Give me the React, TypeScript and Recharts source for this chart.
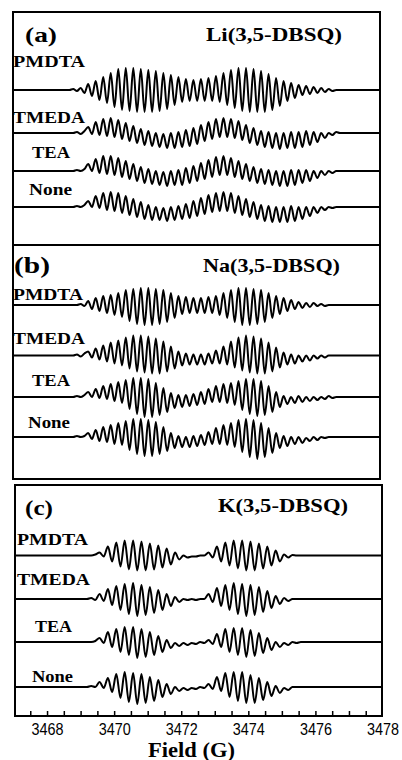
import React from 'react';
import { LineChart, Line, XAxis, YAxis } from 'recharts';

// ---- field positions (G) of the read extrema ----
const fieldAB = [
  3468.6, 3468.712, 3468.824, 3468.936, 3469.048, 3469.16, 3469.272, 3469.384, 3469.496, 3469.608,
  3469.72, 3469.832, 3469.944, 3470.056, 3470.168, 3470.28, 3470.392, 3470.504, 3470.616, 3470.728,
  3470.84, 3470.952, 3471.064, 3471.176, 3471.288, 3471.4, 3471.512, 3471.624, 3471.736, 3471.848,
  3471.96, 3472.072, 3472.184, 3472.296, 3472.408, 3472.52, 3472.632, 3472.744, 3472.856, 3472.968,
  3473.08, 3473.192, 3473.304, 3473.416, 3473.528, 3473.64, 3473.752, 3473.864, 3473.976, 3474.088,
  3474.2, 3474.312, 3474.424, 3474.536, 3474.648, 3474.76, 3474.872, 3474.984, 3475.096, 3475.208,
  3475.32, 3475.432, 3475.544, 3475.656, 3475.768, 3475.88, 3475.992, 3476.104, 3476.216, 3476.328,
  3476.44, 3476.552, 3476.664, 3476.776, 3476.888, 3477.0,
];
const fieldC = [
  3469.05, 3469.175, 3469.3, 3469.425, 3469.55, 3469.675, 3469.8, 3469.925, 3470.05, 3470.175,
  3470.3, 3470.425, 3470.55, 3470.675, 3470.8, 3470.925, 3471.05, 3471.175, 3471.3, 3471.425,
  3471.55, 3471.675, 3471.8, 3471.925, 3472.05, 3472.175, 3472.3, 3472.425, 3472.55, 3472.675,
  3472.8, 3472.925, 3473.05, 3473.175, 3473.3, 3473.425, 3473.55, 3473.675, 3473.8, 3473.925,
  3474.05, 3474.175, 3474.3, 3474.425, 3474.55, 3474.675, 3474.8, 3474.925, 3475.05, 3475.175,
  3475.3, 3475.425, 3475.55,
];

// ---- (a) Li(3,5-DBSQ) ----
const liPMDTA = [
  0, 0, 1, -1, 2, -3, 6, -6, 9, -10,
  13, -13, 17, -17, 21, -20, 22, -21, 22, -22,
  21, -22, 20, -22, 19, -21, 17, -19, 15, -15,
  13, -12, 11, -11, 10, -11, 11, -11, 12, -11,
  14, -12, 17, -15, 20, -18, 22, -21, 22, -22,
  21, -22, 19, -22, 16, -20, 12, -16, 9, -11,
  7, -8, 5, -5, 4, -4, 3, -3, 2, -2,
  1, -1, 0, 0, 0, 0,
];
const liTMEDA = [
  0, 0, 0, 1, -1, 2, 6, -1, 11, -2,
  14, -3, 15, -4, 13, -6, 10, -8, 7, -10,
  4, -12, 2, -13, 0, -14, -1, -15, 0, -15,
  1, -14, 3, -13, 5, -11, 8, -8, 11, -6,
  14, -4, 15, -4, 14, -5, 12, -7, 8, -10,
  5, -12, 2, -14, 1, -15, 0, -16, 0, -15,
  1, -15, 1, -14, 2, -12, 1, -9, 0, -5,
  0, -2, 1, 0, 0, 0,
];
const liTEA = [
  0, 0, 0, 1, 0, 2, 7, 0, 12, -2,
  15, -3, 15, -4, 13, -6, 10, -8, 7, -10,
  4, -12, 2, -13, 0, -14, -1, -15, 0, -14,
  1, -14, 3, -12, 5, -10, 8, -8, 11, -6,
  14, -4, 15, -4, 13, -6, 10, -8, 7, -10,
  4, -12, 2, -13, 1, -14, 0, -15, 0, -15,
  1, -14, 1, -12, 1, -10, 0, -7, 0, -4,
  0, -2, 0, 0, 0, 0,
];
const liNone = [
  0, 0, 0, 1, 0, 2, 6, 0, 11, -1,
  14, -3, 15, -4, 14, -6, 11, -8, 8, -10,
  5, -12, 2, -13, 0, -13, -1, -14, 0, -13,
  1, -12, 3, -11, 6, -9, 9, -7, 12, -5,
  14, -4, 15, -4, 14, -6, 11, -8, 8, -10,
  5, -12, 2, -14, 1, -15, 0, -15, 0, -15,
  1, -14, 0, -12, 0, -9, 0, -6, 0, -3,
  0, -1, 0, 0, 0, 0,
];

// ---- (b) Na(3,5-DBSQ) ----
const naPMDTA = [
  0, 0, 0, 0, 1, -1, 4, -4, 7, -6,
  9, -8, 10, -10, 12, -12, 15, -16, 16, -19,
  17, -20, 17, -20, 16, -19, 15, -17, 12, -13,
  9, -9, 8, -8, 7, -8, 7, -8, 8, -8,
  9, -10, 12, -13, 15, -17, 17, -20, 17, -20,
  16, -19, 15, -17, 12, -13, 9, -9, 7, -6,
  5, -4, 3, -3, 2, -2, 2, -1, 1, -1,
  0, 0, 0, 0, 0, 0,
];
const naTMEDA = [
  0, 0, 0, 1, -1, 2, 4, -2, 7, -4,
  10, -6, 13, -8, 15, -10, 18, -13, 20, -16,
  20, -17, 19, -18, 17, -18, 14, -16, 9, -13,
  4, -10, 2, -9, 1, -9, 1, -9, 2, -8,
  5, -8, 9, -9, 14, -12, 18, -15, 20, -17,
  19, -18, 17, -18, 13, -16, 8, -12, 3, -9,
  1, -8, 0, -6, 0, -5, 0, -3, 0, -2,
  0, 0, 0, 0, 0, 0,
];
const naTEA = [
  0, 0, 0, 1, 0, 2, 5, 0, 8, -1,
  11, -2, 13, -4, 15, -6, 17, -12, 19, -17,
  19, -20, 18, -20, 14, -18, 9, -15, 4, -11,
  2, -10, 2, -9, 3, -8, 5, -7, 8, -5,
  11, -5, 13, -6, 14, -8, 16, -13, 18, -17,
  18, -19, 16, -18, 11, -15, 5, -10, 1, -7,
  0, -6, 1, -5, 0, -4, 0, -3, 0, -2,
  1, -1, 0, 0, 0, 0,
];
const naNone = [
  0, 0, 0, 1, 0, 1, 4, -2, 7, -4,
  10, -5, 12, -7, 14, -8, 16, -13, 18, -17,
  18, -19, 17, -19, 15, -17, 10, -14, 4, -11,
  1, -10, 0, -10, 1, -9, 2, -8, 5, -7,
  9, -7, 12, -8, 14, -10, 17, -15, 18, -20,
  17, -22, 14, -20, 9, -16, 4, -11, 1, -9,
  0, -7, 0, -6, -1, -4, 0, -3, 0, -1,
  0, 0, 0, 0, 0, 0,
];

// ---- (c) K(3,5-DBSQ) ----
const kPMDTA = [
  0, 0, 0, 1, 3, -1, 9, -6, 13, -11,
  15, -14, 15, -15, 14, -15, 12, -14, 10, -12,
  7, -9, 3, -4, 0, -2, -1, -1, 0, 0,
  3, -2, 9, -6, 13, -10, 15, -13, 15, -15,
  14, -15, 12, -13, 9, -10, 5, -6, 1, -2,
  0.5, 0, 0,
];
const kTMEDA = [
  0, 0, 1, -1, 5, -2, 10, -6, 13, -11,
  15, -15, 16, -17, 14, -16, 12, -14, 9, -11,
  5, -7, 2, -3, 0, -1, 0, -1, 0, 0,
  5, -3, 11, -7, 14, -11, 16, -15, 15, -17,
  14, -16, 12, -13, 8, -9, 3, -5, 1, -2,
  0, 0, 0,
];
const kTEA = [
  0, 0, 0, 1, 4, -1, 10, -5, 13, -10,
  15, -13, 15, -16, 13, -15, 10, -13, 6, -10,
  2, -6, -1, -4, -1, -3, -1, -2, 0, -1,
  2, -2, 8, -5, 13, -10, 14, -13, 14, -15,
  12, -14, 9, -11, 4, -8, 0, -5, -1, -3,
  0, -1, 0,
];
const kNone = [
  0, 0, 1, 0, 5, -1, 9, -5, 13, -11,
  15, -15, 14, -17, 13, -16, 10, -14, 7, -10,
  3, -7, 0, -4, -1, -3, -1, -2, 0, -1,
  3, -2, 10, -4, 14, -10, 15, -14, 15, -16,
  12, -16, 9, -13, 5, -9, 1, -6, -1, -3,
  0, 0, 0,
];

const traceNames = ['PMDTA', 'TMEDA', 'TEA', 'None'];
const fieldDomain = [3467, 3478];
const xTicks = [
  3467.5, 3468, 3468.5, 3469, 3469.5, 3470, 3470.5, 3471, 3471.5, 3472, 3472.5,
  3473, 3473.5, 3474, 3474.5, 3475, 3475.5, 3476, 3476.5, 3477, 3477.5, 3478,
];
const xTickLabels = [3468, 3470, 3472, 3474, 3476, 3478];

function buildRows(field: number[], series: number[][], offsets: number[]) {
  const rows: any[] = [];
  const edge = (f: number) => {
    const r: any = { f };
    traceNames.forEach((n, k) => (r[n] = offsets[k]));
    return r;
  };
  rows.push(edge(fieldDomain[0]));
  field.forEach((f, i) => {
    const r: any = { f };
    traceNames.forEach((n, k) => (r[n] = offsets[k] + series[k][i]));
    rows.push(r);
  });
  rows.push(edge(fieldDomain[1]));
  return rows;
}

function FieldTick(props: any) {
  const { x, y, payload } = props;
  const v = payload.value;
  const show = xTickLabels.includes(v);
  return (
    <g>
      {v < 3478 && <line x1={x} x2={x} y1={y} y2={y - 6} stroke="#000" strokeWidth={1.5} />}
      {show && (
        <text
          x={x}
          y={y + 18}
          textAnchor="middle"
          fontFamily="'Liberation Sans', Arial, sans-serif"
          fontSize={16}
          textLength={32}
          lengthAdjust="spacingAndGlyphs"
          fill="#000"
        >
          {v}
        </text>
      )}
    </g>
  );
}

function Panel(props: { left: number; top: number; width: number; height: number; rows: any[]; axis?: boolean }) {
  const { left, top, width, height, rows, axis } = props;
  const axisH = axis ? 26 : 0;
  const padR = axis ? 19 : 0;
  return (
    <div style={{ position: 'absolute', left, top }}>
      <LineChart
        width={width + padR}
        height={height + axisH}
        data={rows}
        margin={{ top: 0, right: padR, bottom: 0, left: 0 }}
      >
        <XAxis
          dataKey="f"
          type="number"
          domain={fieldDomain}
          allowDataOverflow
          hide={!axis}
          ticks={xTicks}
          interval={0}
          tickLine={false}
          axisLine={false}
          tickSize={0}
          tickMargin={0}
          height={axisH || 26}
          tick={(p: any) => <FieldTick {...p} />}
        />
        <YAxis hide type="number" domain={[0, height]} allowDataOverflow />
        {traceNames.map((n) => (
          <Line
            key={n}
            dataKey={n}
            type="monotone"
            stroke="#000"
            strokeWidth={2}
            dot={false}
            activeDot={false}
            isAnimationActive={false}
          />
        ))}
      </LineChart>
    </div>
  );
}

const serif = "'Liberation Serif', 'Times New Roman', serif";

function T(props: { x: number; y: number; s: number; len: number; children: any }) {
  return (
    <text
      x={props.x}
      y={props.y}
      fontFamily={serif}
      fontWeight="bold"
      fontSize={props.s}
      textLength={props.len}
      lengthAdjust="spacingAndGlyphs"
      fill="#000"
    >
      {props.children}
    </text>
  );
}

export default function App() {
  const rowsA = buildRows(fieldAB, [liPMDTA, liTMEDA, liTEA, liNone], [156, 113, 75, 39]);
  const rowsB = buildRows(fieldAB, [naPMDTA, naTMEDA, naTEA, naNone], [175, 124.5, 83, 43]);
  const rowsC = buildRows(fieldC, [kPMDTA, kTMEDA, kTEA, kNone], [161.5, 118, 75, 30]);
  return (
    <div style={{ position: 'absolute', left: 0, top: 0, width: 402, height: 760, background: '#fff', overflow: 'hidden' }}>
      <Panel left={12} top={11} width={369} height={235} rows={rowsA} />
      <Panel left={12} top={244} width={369} height={236} rows={rowsB} />
      <Panel left={14} top={484} width={369} height={233} rows={rowsC} axis />
      <svg width={402} height={760} style={{ position: 'absolute', left: 0, top: 0, pointerEvents: 'none' }}>
        <rect x={13} y={12} width={367} height={233} fill="none" stroke="#000" strokeWidth={2} />
        <rect x={13} y={245} width={367} height={234} fill="none" stroke="#000" strokeWidth={2} />
        <rect x={15} y={485} width={367} height={231} fill="none" stroke="#000" strokeWidth={2} />

        <T x={25} y={42} s={22} len={32}>(a)</T>
        <T x={206} y={41} s={19} len={136}>Li(3,5-DBSQ)</T>
        <T x={13} y={67} s={17} len={72}>PMDTA</T>
        <T x={13} y={123} s={17} len={72}>TMEDA</T>
        <T x={32} y={158} s={17} len={38}>TEA</T>
        <T x={29} y={195} s={17} len={43}>None</T>

        <T x={14} y={273} s={23} len={36}>(b)</T>
        <T x={203} y={272} s={19} len={137}>Na(3,5-DBSQ)</T>
        <T x={13} y={300} s={16} len={70}>PMDTA</T>
        <T x={13} y={344} s={16} len={72}>TMEDA</T>
        <T x={32} y={386} s={17} len={38}>TEA</T>
        <T x={28} y={428} s={17} len={42}>None</T>

        <T x={25} y={515} s={22} len={28}>(c)</T>
        <T x={218} y={512} s={19} len={130}>K(3,5-DBSQ)</T>
        <T x={17} y={545} s={17} len={71}>PMDTA</T>
        <T x={17} y={585} s={17} len={73}>TMEDA</T>
        <T x={35} y={632} s={17} len={37}>TEA</T>
        <T x={32} y={682} s={17} len={41}>None</T>

        <T x={148} y={757} s={20} len={87}>Field (G)</T>
      </svg>
    </div>
  );
}
